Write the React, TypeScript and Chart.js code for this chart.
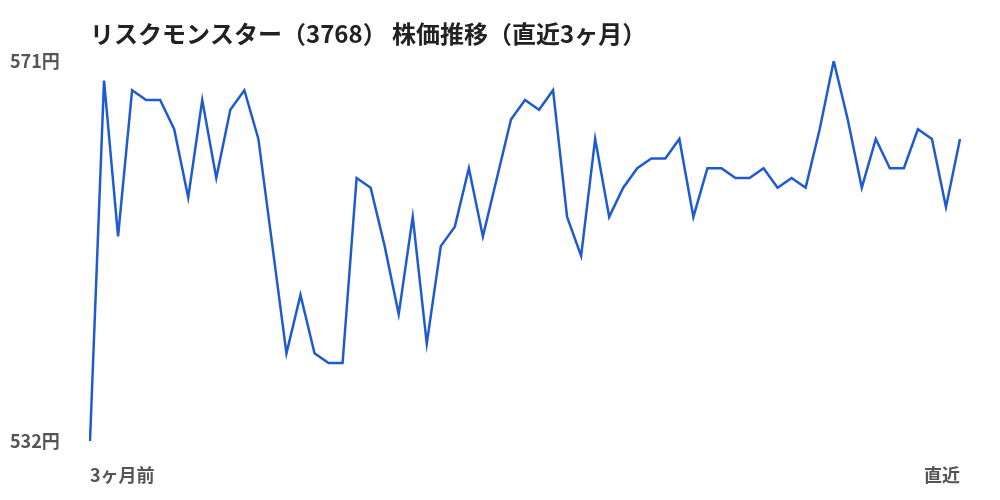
import React, { useEffect, useRef } from "react";
import { Chart, registerables } from "chart.js";

Chart.register(...registerables);

const titleText = "リスクモンスター（3768） 株価推移（直近3ヶ月）";

const prices: number[] = [
  532, 569, 553, 568, 567, 567, 564, 557, 567, 559,
  566, 568, 563, 552, 541, 547, 541, 540, 540, 559,
  558, 552, 545, 555, 542, 552, 554, 560, 553, 559,
  565, 567, 566, 568, 555, 551, 563, 555, 558, 560,
  561, 561, 563, 555, 560, 560, 559, 559, 560, 558,
  559, 558, 564, 571, 565, 558, 563, 560, 560, 564,
  563, 556, 563,
];

const startLabel = "3ヶ月前";
const endLabel = "直近";
const xLabels: string[] = prices.map((_, i) =>
  i === 0 ? startLabel : i === prices.length - 1 ? endLabel : ""
);

const yMin = 532;
const yMax = 571;
const yTicks: number[] = [yMin, yMax];
const yUnit = "円";

const FONT = '"Noto Sans CJK JP", "Noto Sans", sans-serif';

export default function App() {
  const ref = useRef<HTMLCanvasElement | null>(null);

  useEffect(() => {
    if (!ref.current) return;
    const titlePlugin = {
      id: "leftTitle",
      afterDraw(chart: any) {
        const ctx = chart.ctx;
        ctx.save();
        ctx.font = `bold 24px ${FONT}`;
        ctx.fillStyle = "#222222";
        ctx.textAlign = "left";
        ctx.textBaseline = "middle";
        ctx.fillText(titleText, chart.chartArea.left, 34);
        ctx.restore();
      },
    };
    const chart = new Chart(ref.current, {
      type: "line",
      data: {
        labels: xLabels,
        datasets: [
          {
            data: prices,
            borderColor: "#1f5bd0",
            borderWidth: 2.5,
            pointRadius: 0,
            fill: false,
            tension: 0,
          },
        ],
      },
      options: {
        responsive: false,
        animation: false,
        layout: { padding: { top: 61, left: 10, right: 40, bottom: 0 } },
        plugins: {
          legend: { display: false },
          tooltip: { enabled: false },
          title: { display: false },
        },
        scales: {
          x: {
            type: "category",
            offset: false,
            grid: { display: false, drawTicks: false },
            border: { display: false },
            afterFit(scale: any) {
              scale.height = 59;
            },
            ticks: {
              autoSkip: false,
              maxRotation: 0,
              minRotation: 0,
              align: "inner",
              padding: 23,
              color: "#555555",
              font: { family: FONT, size: 18, weight: "bold" },
            },
          },
          y: {
            min: yMin,
            max: yMax,
            grid: { display: false, drawTicks: false },
            border: { display: false },
            afterFit(scale: any) {
              scale.width = 80;
            },
            afterBuildTicks(scale: any) {
              scale.ticks = yTicks.map((v) => ({ value: v }));
            },
            ticks: {
              crossAlign: "far",
              color: "#555555",
              font: { family: FONT, size: 18, weight: "bold" },
              callback: (v: any) => `${v}${yUnit}`,
            },
          },
        },
      },
      plugins: [titlePlugin],
    });
    return () => chart.destroy();
  }, []);

  return (
    <div style={{ position: "absolute", left: 0, top: 0, width: 1000, height: 500, background: "#fff" }}>
      <canvas ref={ref} width={1000} height={500} />
    </div>
  );
}
